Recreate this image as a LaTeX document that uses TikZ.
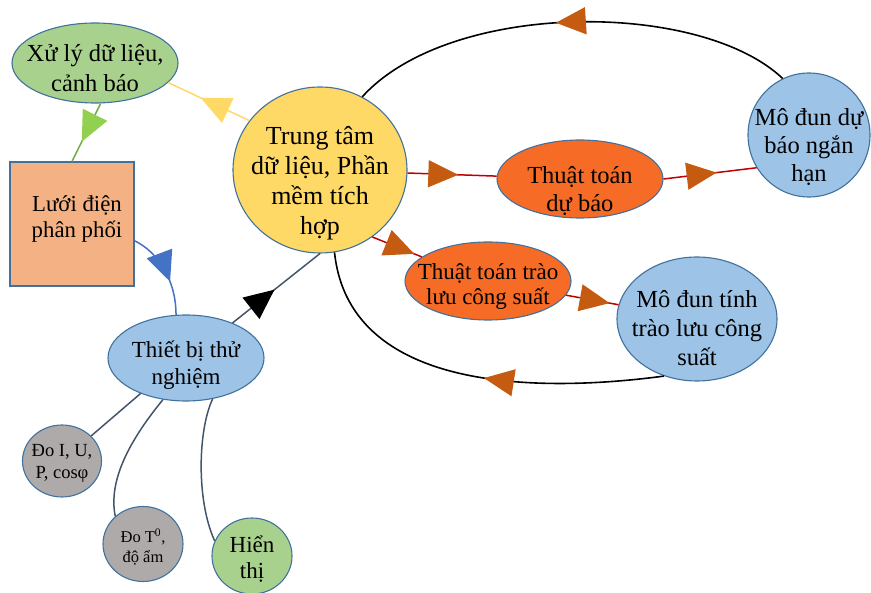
\documentclass[tikz,border=0pt]{standalone}
\usepackage{fontspec}
\setmainfont{Liberation Serif}
\usetikzlibrary{arrows.meta}
\usetikzlibrary{shapes.geometric}
\usetikzlibrary{decorations.markings}

\definecolor{vang}{HTML}{FFD966}
\definecolor{xanhla}{HTML}{A9D18E}
\definecolor{cam}{HTML}{F4B183}
\definecolor{camdo}{HTML}{F66B25}
\definecolor{xanhduong}{HTML}{9DC3E6}
\definecolor{xam}{HTML}{AEAAAA}
\definecolor{vien}{HTML}{41719C}
\definecolor{xamdam}{HTML}{44546A}
\definecolor{do}{HTML}{C00000}
\definecolor{naudo}{HTML}{C55A11}
\definecolor{lacay}{HTML}{70AD47}
\definecolor{lasang}{HTML}{92D050}
\definecolor{duong}{HTML}{4472C4}

\tikzset{
  bubble/.style={ellipse, draw=vien, line width=1.1pt, inner sep=0pt},
  txt/.style={align=center, inner sep=0pt},
  midarrow/.style 2 args={postaction={decorate,decoration={markings,
      mark=at position #1 with {\arrow{Triangle[length=30pt,width=27pt,color=#2]}}}}}
}

\begin{document}
\begin{tikzpicture}[x=1pt,y=-1pt]
\useasboundingbox (0,0) rectangle (871,593);

% cac nut chinh
\node[bubble, fill=vang, minimum width=174pt, minimum height=166pt,
  label={[txt,font=\fontsize{26}{30}\selectfont,yshift=-13pt]center:{Trung tâm\\dữ liệu, Phần\\mềm tích\\hợp}}] (tt) at (320,170) {};
\node[bubble, fill=xanhla, minimum width=166pt, minimum height=80pt,
  label={[txt,font=\fontsize{24.5}{30}\selectfont,yshift=-5pt]center:{Xử lý dữ liệu,\\cảnh báo}}] (xl) at (95,63) {};
\node[rectangle, draw=vien, line width=1.1pt, fill=cam, minimum width=124pt, minimum height=124pt,
  label={[txt,font=\fontsize{22.8}{26}\selectfont,xshift=5pt,yshift=5pt]center:{Lưới điện\\phân phối}}] (lg) at (72,224) {};
\node[bubble, fill=camdo, minimum width=166pt, minimum height=78pt,
  label={[txt,font=\fontsize{24.5}{28}\selectfont,yshift=-12pt]center:{Thuật toán\\dự báo}}] (tdb) at (580,179) {};
\node[bubble, fill=camdo, minimum width=166pt, minimum height=78pt,
  label={[txt,font=\fontsize{23}{25}\selectfont,yshift=-5pt]center:{Thuật toán trào\\lưu công suất}}] (ttl) at (488,281) {};
\node[bubble, fill=xanhduong, minimum width=122pt, minimum height=124pt,
  label={[txt,font=\fontsize{24.5}{28}\selectfont,yshift=-12pt]center:{Mô đun dự\\báo ngắn\\hạn}}] (mdb) at (809,135) {};
\node[bubble, fill=xanhduong, minimum width=160pt, minimum height=124pt,
  label={[txt,font=\fontsize{24.5}{29}\selectfont,yshift=-9pt]center:{Mô đun tính\\trào lưu công\\suất}}] (mdt) at (697,319) {};
\node[bubble, fill=xanhduong, minimum width=156pt, minimum height=86pt,
  label={[txt,font=\fontsize{23}{27}\selectfont,yshift=-7pt]center:{Thiết bị thử\\nghiệm}}] (tb) at (186,358) {};

% cac nut do dem
\node[bubble, fill=xam, minimum width=79pt, minimum height=72pt,
  label={[txt,font=\fontsize{18.5}{22}\selectfont,yshift=-2pt]center:{Đo I, U,\\P, cosφ}}] (doi) at (62,461) {};
\node[bubble, fill=xam, minimum width=80pt, minimum height=75pt,
  label={[txt,font=\fontsize{16.5}{20}\selectfont,yshift=-3pt]center:{Đo T\textsuperscript{0},\\độ ẩm}}] (dot) at (143,544) {};
\node[bubble, fill=xanhla, minimum width=80pt, minimum height=76pt,
  label={[txt,font=\fontsize{23}{26}\selectfont,yshift=-3pt]center:{Hiển\\thị}}] (ht) at (252,556) {};

% duong noi
\draw[vang, line width=1.5pt, midarrow={0.6}{vang}] (tt.145) -- (xl.-15);
\draw[lacay, line width=1.5pt, midarrow={0.66}{lasang}] (xl.-82) -- (lg.north);
\draw[duong, line width=1.5pt, midarrow={0.62}{duong}] (lg.-15) .. controls (158,252) and (176,280) .. (tb.103);
\draw[xamdam, line width=1.5pt, midarrow={0.48}{black}] (tb.37) -- (tt.south);

\draw[do, line width=1.5pt, midarrow={0.57}{naudo}] (tt) -- (tdb);
\draw[do, line width=1.5pt, midarrow={0.57}{naudo}] (tdb.east) -- (mdb.212);
\draw[do, line width=1.5pt, midarrow={0.85}{naudo}] (tt.-52) -- (ttl.160);
\draw[do, line width=1.5pt, midarrow={0.83}{naudo}] (ttl) -- (mdt);

% vong phan hoi
\draw[black, line width=1.6pt, midarrow={0.53}{naudo}] (mdb.115) .. controls (700,0) and (450,0) .. (tt.60);
\draw[black, line width=1.6pt, midarrow={0.46}{naudo}] (mdt.240) .. controls (560,390) and (350,400) .. (tt.-80);

% thiet bi do
\draw[xamdam, line width=1.5pt] (tb.-142) -- (doi);
\draw[xamdam, line width=1.5pt] (tb.-119) .. controls (130,440) and (108,480) .. (dot.135);
\draw[xamdam, line width=1.5pt] (tb.-57) .. controls (198,430) and (196,500) .. (ht.158);
\end{tikzpicture}
\end{document}
